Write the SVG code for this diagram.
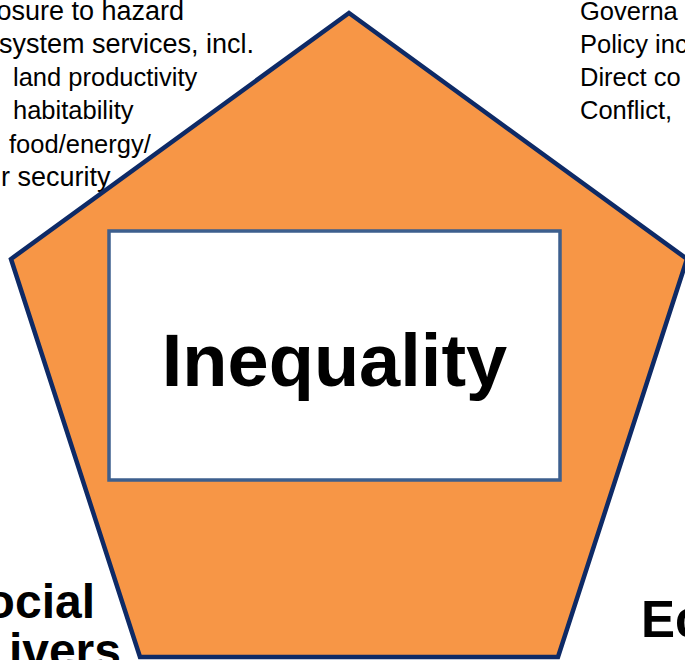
<svg xmlns="http://www.w3.org/2000/svg" width="685" height="660" viewBox="0 0 685 660">
<style>
.t{font-family:"Liberation Sans",Arial,sans-serif;font-size:25.5px;fill:#000}
.t2{font-size:27px}
.b{font-family:"Liberation Sans",Arial,sans-serif;font-weight:bold;fill:#000}
.pent{fill:#F79646;stroke:#0E2A66;stroke-width:4.5;stroke-linejoin:miter}
.box{fill:#fff;stroke:#3D5F8E;stroke-width:3.5}
</style>
<rect width="685" height="660" fill="#fff"/>
<g id="env-text">
<text class="t t2" x="184" y="20" text-anchor="end">osure to hazard</text>
<text class="t t2" x="254" y="53" text-anchor="end">system services, incl.</text>
<text class="t" x="13" y="86">land productivity</text>
<text class="t" x="13" y="119">habitability</text>
<text class="t" x="9" y="153">food/energy/</text>
<text class="t t2" x="1" y="186">r security</text>
</g>
<g id="gov-text">
<text class="t" x="580" y="20">Governa</text>
<text class="t" x="580" y="53">Policy inc</text>
<text class="t" x="580" y="86">Direct co</text>
<text class="t" x="580" y="119">Conflict,</text>
</g>
<g id="social-drivers">
<text class="b" x="95" y="618" font-size="48" text-anchor="end">ocial</text>
<text class="b" x="121" y="667" font-size="48" text-anchor="end">ivers</text>
</g>
<g id="economic-drivers">
<text class="b" x="641" y="637" font-size="51">Ec</text>
</g>
<g id="inequality">
<polygon class="pent" points="349,13 687,259 558,657 140,657 11,259"/>
<rect class="box" x="109" y="231" width="451" height="249"/>
<text class="b" x="334.5" y="386" font-size="74" text-anchor="middle">Inequality</text>
</g>
<g id="connectors"/>
</svg>
